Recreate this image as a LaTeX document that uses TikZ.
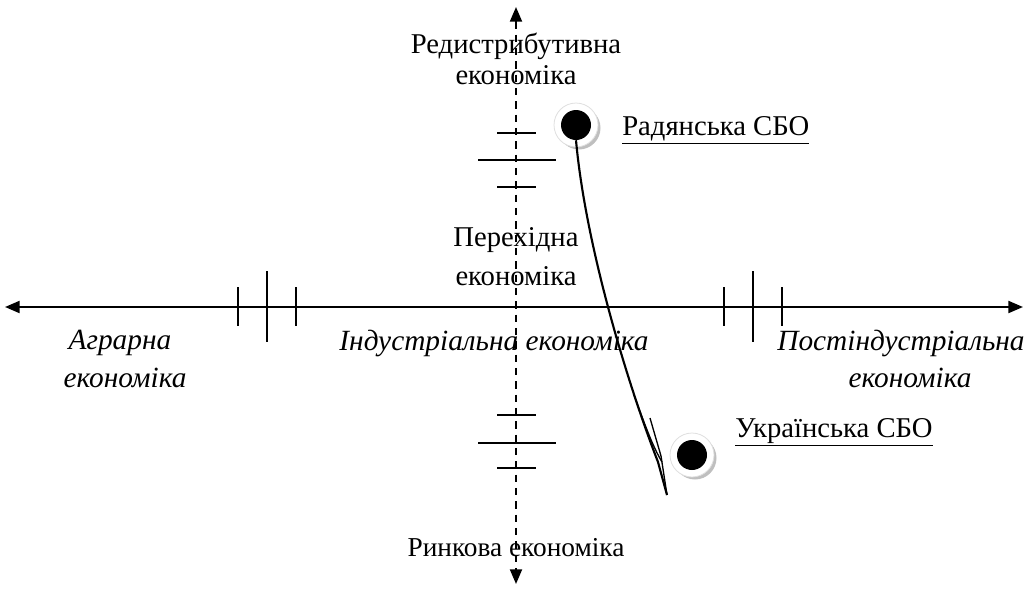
\documentclass[tikz,border=0pt]{standalone}
\usepackage{fontspec}
\setmainfont{Liberation Serif}
\usetikzlibrary{arrows.meta}
\begin{document}
\begin{tikzpicture}[x=0.75pt,y=-0.75pt,
  axis/.style={line width=1.6pt,{Triangle[length=11pt,width=9pt]}-{Triangle[length=11pt,width=9pt]}},
  vaxis/.style={line width=1.5pt,dash pattern=on 5.5pt off 4.5pt,{Triangle[length=11pt,width=9pt]}-{Triangle[length=11pt,width=9pt]}},
  tickln/.style={line width=1.1pt},
  lbl/.style={font=\fontsize{21.5}{22}\selectfont,inner sep=0pt},
  ilbl/.style={lbl,font=\fontsize{22}{22}\selectfont\itshape},
  dotcore/.style={circle,fill=black,minimum size=22.5pt,inner sep=0pt},
  flow/.style={line width=1.6pt},
  flowthin/.style={line width=1pt}
]
\useasboundingbox (0,0) rectangle (1029,590);
% axes
\coordinate (L) at (5,307);
\coordinate (R) at (1023,307);
\coordinate (T) at (516,7);
\coordinate (B) at (516,584);
\draw[axis] (L) -- (R);
% horizontal ticks
\foreach \x in {238,296,724,782}{\draw[tickln] (\x,287) -- (\x,326);}
\foreach \x in {267,753}{\draw[tickln] (\x,271) -- (\x,342);}
% vertical ticks
\foreach \y in {133,187,415,468}{\draw[tickln] (497,\y) -- (536,\y);}
\foreach \y in {160,443}{\draw[tickln] (478,\y) -- (556,\y);}
% labels
\node[lbl] (redisA) at (516,46) {Редистрибутивна};
\node[lbl] (redisB) at (516,75) {економіка};
\node[lbl] (transA) at (516,240) {Перехідна};
\node[lbl] (transB) at (516,276) {економіка};
\node[ilbl] (agrA) at (120,343) {Аграрна};
\node[ilbl] (agrB) at (125,378) {економіка};
\node[ilbl] (ind) at (494,343) {Індустріальна економіка};
\node[ilbl] (postA) at (901,343) {Постіндустріальна};
\node[ilbl] (postB) at (910,378) {економіка};
\node[lbl,font=\fontsize{20.5}{22}\selectfont] (rynk) at (516,548) {Ринкова економіка};
\draw[vaxis] (T) -- (B);
% dots
\foreach \n/\cx/\cy in {sov/576/125, ukr/692/455}{
  \fill[gray!50] (\cx+3,\cy+3) circle (21.5);
  \fill[white] (\cx,\cy) circle (22);
  \draw[gray!25,line width=0.6pt] (\cx,\cy) circle (22);
  \node[dotcore] (\n) at (\cx,\cy) {};
}
\node[lbl,anchor=west] (sovl) at (622,130) {\underline{Радянська СБО}};
\node[lbl,anchor=west] (ukrl) at (735,432) {\underline{Українська СБО}};
% flow arrow
\coordinate (k) at (658,462);
\coordinate (tip) at (667,495);
\coordinate (barb) at (650,418);
\draw[flow] (sov.south) .. controls (586,250) and (630,390) .. (k) -- (tip);
\draw[flowthin] (634,395) .. controls (645,425) and (652,445) .. ([xshift=3]k);
\draw[flowthin] (barb) -- (661,456) -- (tip);
\end{tikzpicture}
\end{document}
